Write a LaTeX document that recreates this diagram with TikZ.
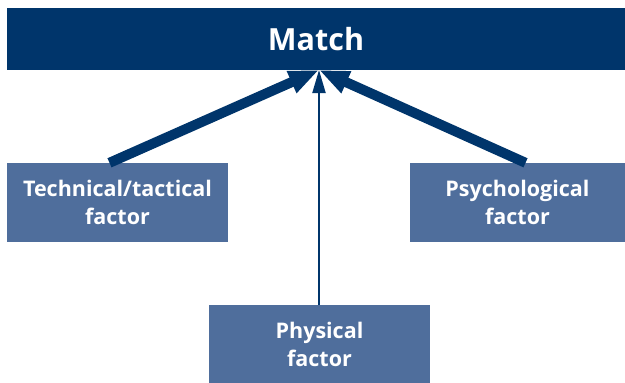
\documentclass[tikz,border=0pt]{standalone}
\usepackage{fontspec}
\setmainfont{Open Sans}
\usepackage{xcolor}
\usetikzlibrary{positioning,arrows.meta}
\definecolor{navy}{HTML}{00356B}
\definecolor{slate}{HTML}{4F6E9C}

\tikzset{
  factorbox/.style={fill=slate,text=white,align=center,inner sep=0pt,
    font=\bfseries\fontsize{21.5}{28}\selectfont,minimum height=79pt},
  thickarrow/.style={navy,line width=10pt,-{Triangle[length=30pt,width=22pt]}},
  thinarrow/.style={navy,line width=2pt,-{Triangle[length=23pt,width=13pt]}}
}

\begin{document}
\begin{tikzpicture}[x=1pt,y=-1pt]
    \useasboundingbox (0,0) rectangle (625,383);
    \node[fill=navy,text=white,minimum width=618pt,minimum height=62pt,inner sep=0pt,
      font=\bfseries\fontsize{30.5}{34}\selectfont] (match) at (316,39) {Match};
    \node[factorbox,minimum width=221pt] (tech) at (117.5,202.5) {Technical/tactical\\factor};
    \node[factorbox,minimum width=215pt] (psych) at (517.5,202.5) {Psychological\\factor};
    \node[factorbox,minimum width=221pt,minimum height=78pt] (phys) at (319.5,344) {Physical\\factor};
    \coordinate (tip) at (319,70);
    % arrows into the match
    \draw[thickarrow] ([xshift=-8pt]tech.north) -- (tip);
    \draw[thickarrow] ([xshift=8pt]psych.north) -- (tip);
    \draw[thinarrow] (phys.north -| tip) -- (tip);
\end{tikzpicture}
\end{document}
